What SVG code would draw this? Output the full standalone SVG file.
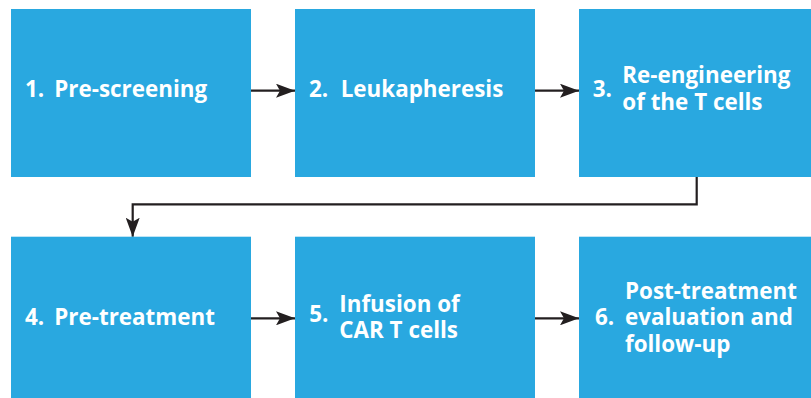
<svg xmlns="http://www.w3.org/2000/svg" width="811" height="398" viewBox="0 0 811 398">
<defs>
<style>
.box{fill:#29a8e0}
.t{font-family:"Open Sans","Liberation Sans",sans-serif;font-weight:700;font-size:22.4px;fill:#ffffff}
.ln{fill:none;stroke:#231f20;stroke-width:2.2}
</style>
<marker id="ah" markerWidth="19" markerHeight="14" viewBox="0 0 19 14" refX="19" refY="7" markerUnits="userSpaceOnUse" orient="auto">
<path d="M0,0 L19,7 L0,14 L4,7 Z" fill="#231f20"/>
</marker>
</defs>
<rect width="811" height="398" fill="#ffffff"/>
<g id="connectors">
<line class="ln" x1="251" y1="90.7" x2="295" y2="90.7" marker-end="url(#ah)"/>
<line class="ln" x1="535" y1="90.7" x2="579" y2="90.7" marker-end="url(#ah)"/>
<polyline class="ln" points="696.7,177 696.7,204.3 132.7,204.3 132.7,236.7" marker-end="url(#ah)"/>
<line class="ln" x1="251" y1="318.3" x2="295" y2="318.3" marker-end="url(#ah)"/>
<line class="ln" x1="535" y1="318.3" x2="579" y2="318.3" marker-end="url(#ah)"/>
</g>
<g id="node1">
<rect class="box" x="11" y="9" width="240" height="168"/>
<text class="t" x="25" y="97.3">1.</text>
<text class="t" x="54.3" y="97.3">Pre-screening</text>
</g>
<g id="node2">
<rect class="box" x="295" y="9" width="240" height="168"/>
<text class="t" x="309" y="97.3">2.</text>
<text class="t" x="340.7" y="97.3">Leukapheresis</text>
</g>
<g id="node3">
<rect class="box" x="579" y="9" width="232" height="168"/>
<text class="t" x="592.7" y="97.3">3.</text>
<text class="t" x="622.3" y="83.3">Re-engineering</text>
<text class="t" x="622.3" y="110">of the T cells</text>
</g>
<g id="node4">
<rect class="box" x="11" y="236.7" width="240" height="161.3"/>
<text class="t" x="25" y="325">4.</text>
<text class="t" x="54.3" y="325">Pre-treatment</text>
</g>
<g id="node5">
<rect class="box" x="295" y="236.7" width="240" height="161.3"/>
<text class="t" x="309.3" y="321.7">5.</text>
<text class="t" x="339.3" y="311.7">Infusion of</text>
<text class="t" x="339.3" y="338.3">CAR T cells</text>
</g>
<g id="node6">
<rect class="box" x="579" y="236.7" width="232" height="161.3"/>
<text class="t" x="595" y="325">6.</text>
<text class="t" x="625" y="299">Post-treatment</text>
<text class="t" x="625" y="325">evaluation and</text>
<text class="t" x="625" y="351.7">follow-up</text>
</g>
</svg>
